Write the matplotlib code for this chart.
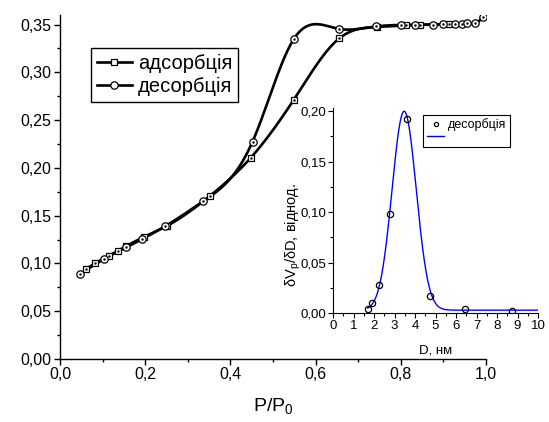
import numpy as np
import matplotlib
matplotlib.use("Agg")
import matplotlib.pyplot as plt
from matplotlib.ticker import MultipleLocator, FuncFormatter
from matplotlib.lines import Line2D

plt.rcParams['font.family'] = ['Liberation Sans', 'DejaVu Sans']

# ---- data: main isotherm ----
ads_x = [0.060, 0.082, 0.114, 0.135, 0.155, 0.196, 0.250, 0.353, 0.448, 0.549, 0.656, 0.745, 0.812, 0.845, 0.914]
ads_y = [0.094, 0.100, 0.108, 0.113, 0.118, 0.1275, 0.139, 0.171, 0.2107, 0.2715, 0.3357, 0.3475, 0.3490, 0.3495, 0.3508]
des_x = [0.047, 0.103, 0.155, 0.193, 0.246, 0.336, 0.452, 0.549, 0.654, 0.742, 0.800, 0.833, 0.876, 0.900, 0.927, 0.943, 0.956, 0.974, 0.994]
des_y = [0.0888, 0.1045, 0.1167, 0.1255, 0.1387, 0.165, 0.2275, 0.335, 0.3455, 0.348, 0.3496, 0.3498, 0.3500, 0.3503, 0.3507, 0.3510, 0.3512, 0.3515, 0.3575]

# ---- data: inset pore size distribution ----
psd_d = [1.69, 1.89, 2.23, 2.78, 3.63, 4.73, 6.44, 8.72]
psd_v = [0.0037, 0.0099, 0.0277, 0.0983, 0.1918, 0.0168, 0.0040, 0.0023]
# Gaussian fit parameters
fit_y0, fit_A, fit_xc, fit_sigma = 0.0028, 0.197, 3.47, 0.59

labels_main = ['адсорбція', 'десорбція']
label_psd = 'десорбція'


def natural_spline(x, y, n=400):
    x = np.asarray(x, float); y = np.asarray(y, float)
    k = len(x)
    h = np.diff(x)
    A = np.zeros((k, k)); b = np.zeros(k)
    A[0, 0] = 1; A[-1, -1] = 1
    for i in range(1, k - 1):
        A[i, i - 1] = h[i - 1]
        A[i, i] = 2 * (h[i - 1] + h[i])
        A[i, i + 1] = h[i]
        b[i] = 3 * ((y[i + 1] - y[i]) / h[i] - (y[i] - y[i - 1]) / h[i - 1])
    c = np.linalg.solve(A, b)
    xs = np.linspace(x[0], x[-1], n)
    idx = np.clip(np.searchsorted(x, xs) - 1, 0, k - 2)
    bb = (y[1:] - y[:-1]) / h - h * (2 * c[:-1] + c[1:]) / 3
    d = (c[1:] - c[:-1]) / (3 * h)
    t = xs - x[idx]
    ys = y[idx] + bb[idx] * t + c[idx] * t ** 2 + d[idx] * t ** 3
    return xs, ys


fig = plt.figure(figsize=(5.49, 4.22), dpi=100)
ax = fig.add_axes([0.1093, 0.1493, 0.7760, 0.8152])

comma = FuncFormatter(lambda v, p: ('%.1f' % v).replace('.', ','))
comma2 = FuncFormatter(lambda v, p: ('%.2f' % v).replace('.', ','))

sx, sy = natural_spline(ads_x, ads_y)
ax.plot(sx, sy, color='black', lw=1.9, zorder=2)
dx, dy = natural_spline(des_x, des_y)
ax.plot(dx, dy, color='black', lw=1.9, zorder=2)
ax.plot(ads_x, ads_y, ls='none', marker='s', ms=4.4, mfc='white', mec='black', mew=0.9, zorder=3)
ax.plot(ads_x, ads_y, ls='none', marker='.', ms=1.5, color='black', zorder=3)
ax.plot(des_x, des_y, ls='none', marker='o', ms=5.3, mfc='white', mec='black', mew=0.9, zorder=4)
ax.plot(des_x, des_y, ls='none', marker='.', ms=1.5, color='black', zorder=4)

ax.set_xlim(0, 1.0)
ax.set_ylim(0, 0.36)
ax.xaxis.set_major_locator(MultipleLocator(0.2))
ax.xaxis.set_minor_locator(MultipleLocator(0.1))
ax.yaxis.set_major_locator(MultipleLocator(0.05))
ax.yaxis.set_minor_locator(MultipleLocator(0.025))
ax.xaxis.set_major_formatter(comma)
ax.yaxis.set_major_formatter(comma2)
for s in ['top', 'right']:
    ax.spines[s].set_visible(False)
for s in ['left', 'bottom']:
    ax.spines[s].set_linewidth(1.0)
ax.tick_params(which='major', direction='out', length=4, width=1.0, labelsize=11.5, pad=2)
ax.tick_params(which='minor', direction='out', length=2.5, width=1.0)
ax.set_xlabel('P/P$_\\mathregular{0}$', fontsize=14, labelpad=10)

h1 = Line2D([], [], color='black', lw=1.9, marker='s', ms=4.4, mfc='white', mec='black', mew=0.9)
h2 = Line2D([], [], color='black', lw=1.9, marker='o', ms=5.3, mfc='white', mec='black', mew=0.9)
leg = ax.legend([h1, h2], labels_main, loc='upper left', bbox_to_anchor=(0.072, 0.904),
                borderaxespad=0, fancybox=False, edgecolor='black', fontsize=14.5,
                handlelength=1.75, handletextpad=0.3, borderpad=0.3, labelspacing=0.2,
                framealpha=1)
leg.get_frame().set_linewidth(1.0)

# ---- inset ----
ins = fig.add_axes([0.6066, 0.2583, 0.3734, 0.4846])
gx = np.linspace(psd_d[0], 10, 400)
gy = fit_y0 + fit_A * np.exp(-(gx - fit_xc) ** 2 / (2 * fit_sigma ** 2))
ins.plot(gx, gy, color='#0000ff', lw=1.0, zorder=2)
ins.plot(psd_d, psd_v, ls='none', marker='o', ms=4.5, mfc='none', mec='black', mew=0.9, zorder=3)
ins.set_xlim(0, 10)
ins.set_ylim(0, 0.2025)
ins.xaxis.set_major_locator(MultipleLocator(1))
ins.xaxis.set_minor_locator(MultipleLocator(0.5))
ins.yaxis.set_major_locator(MultipleLocator(0.05))
ins.yaxis.set_minor_locator(MultipleLocator(0.025))
ins.yaxis.set_major_formatter(comma2)
ins.xaxis.set_major_formatter(FuncFormatter(lambda v, p: '%d' % round(v)))
for s in ['top', 'right']:
    ins.spines[s].set_visible(False)
ins.patch.set_alpha(0)
ins.tick_params(which='major', direction='out', length=3.5, width=0.8, labelsize=9.5, pad=1.5)
ins.tick_params(which='minor', direction='out', length=2, width=0.8)
ins.set_xlabel('D, нм', fontsize=9.5, labelpad=9)
ins.set_ylabel('δV$_\\mathregular{p}$/δD, віднод.', fontsize=10.5)
ins.yaxis.set_label_coords(-0.148, 0.38)

hi1 = Line2D([], [], ls='none', marker='o', ms=3, mfc='none', mec='black', mew=0.9)
hi2 = Line2D([], [], color='#0000ff', lw=1.0)
leg2 = ins.legend([hi1, hi2], [label_psd, ' '], loc='upper left', bbox_to_anchor=(0.44, 0.97),
                  borderaxespad=0, fancybox=False, edgecolor='black', fontsize=9,
                  handlelength=1.4, handletextpad=0.3, borderpad=0.3, labelspacing=0.0,
                  framealpha=1)
leg2.get_frame().set_linewidth(0.8)

fig.savefig('out.png', dpi=100)
